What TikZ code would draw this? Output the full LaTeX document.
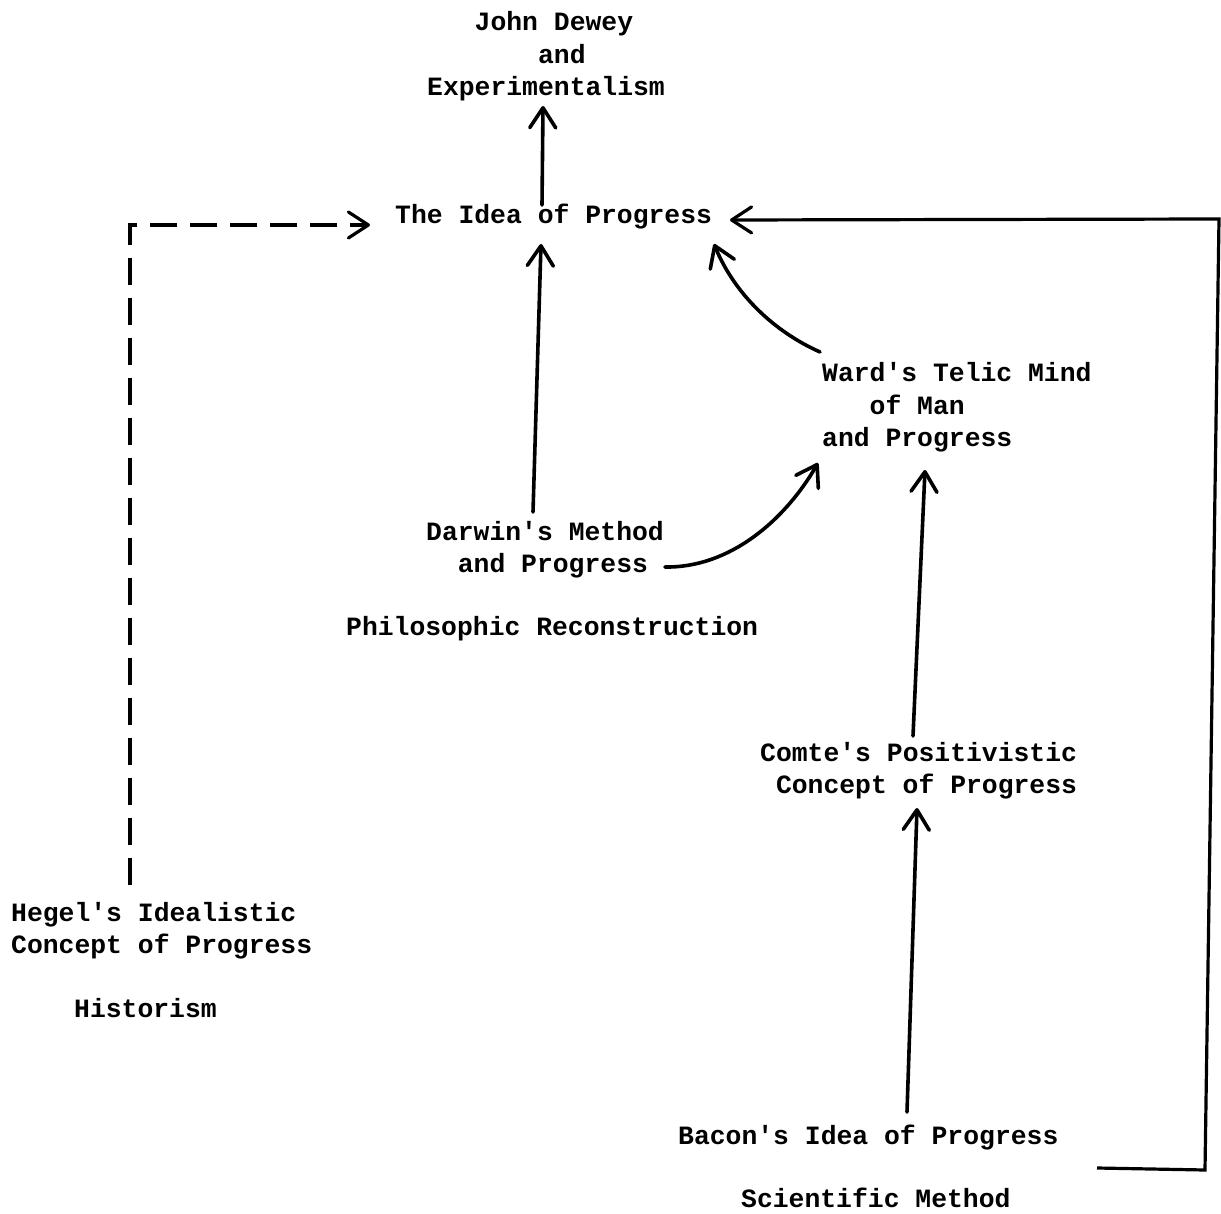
\documentclass[tikz,border=0pt]{standalone}
\usepackage{fontspec}
\setmonofont{Liberation Mono}
\usetikzlibrary{arrows.meta,calc}
% typewriter face with a fixed character pitch, spaces included
\newlength\pitch
\setlength\pitch{15.84pt}
\newcommand\typefont{\ttfamily\bfseries\fontsize{26.4pt}{32.5pt}\selectfont}
\newcommand\tw{\spaceskip=\pitch\relax\xspaceskip=\pitch\relax}
\newcommand\ind[1]{\hspace*{#1\pitch}}
\begin{document}
\begin{tikzpicture}[x=1pt,y=-1pt,
  lbl/.style={anchor=base west, inner sep=0pt, text width=520pt, align=left, font=\typefont},
  arr/.style={line width=3.6pt, line cap=round, -{Straight Barb[length=20pt,width=26pt,round]}},
  plainline/.style={line width=3.2pt, line join=miter},
  dashline/.style={line width=3.2pt, dash pattern=on 27pt off 13pt, -{Straight Barb[length=20pt,width=26pt,round]}}]
\useasboundingbox (0,0) rectangle (1221,1214);

% labels
\node[lbl] (dewey) at (427,31) {\tw\ind{3}John Dewey\\\ind{7}and\\Experimentalism};
\node[lbl] (idea)  at (395,224) {\tw The Idea of Progress};
\node[lbl] (ward)  at (822,382) {\tw Ward's Telic Mind\\\ind{3}of Man\\and Progress};
\node[lbl] (darwin) at (426,540) {\tw Darwin's Method\\\ind{2}and Progress};
\node[lbl] (philo) at (346,635) {\tw Philosophic Reconstruction};
\node[lbl] (comte) at (760,761) {\tw Comte's Positivistic\\\ind{1}Concept of Progress};
\node[lbl] (hegel) at (11,921) {\tw Hegel's Idealistic\\Concept of Progress};
\node[lbl] (histo) at (74,1017) {\tw Historism};
\node[lbl] (bacon) at (678,1144) {\tw Bacon's Idea of Progress};
\node[lbl] (sci)   at (741,1207) {\tw Scientific Method};

% straight arrows
\draw[arr] ($(idea.base west)+(147,-19)$) -- ($(dewey.base west)+(116,75)$);
\draw[arr] ($(darwin.base west)+(107,-28)$) -- ($(idea.base west)+(146,20)$);
\draw[arr] ($(comte.base west)+(153,-25)$) -- ($(ward.base west)+(103,88)$);
\draw[arr] ($(bacon.base west)+(229,-32)$) -- ($(comte.base west)+(157,47)$);

% curved arrows
\draw[arr] ($(ward.base west)+(-2,-30)$) .. controls (775,332) and (735,295) .. ($(idea.base west)+(319,20)$);
\draw[arr] ($(darwin.base west)+(239,27)$) .. controls (730,568) and (785,520) .. ($(ward.base west)+(-4,81)$);

% return line from Bacon round the right side
\draw[plainline, -{Straight Barb[length=20pt,width=26pt,round]}]
  ($(bacon.base west)+(419,24)$) -- (1205,1170) -- (1219,219) -- ($(idea.base west)+(335,-4)$);

% dashed line from Hegel
\draw[dashline] ($(hegel.base west)+(119,-36)$) -- (130,225) -- ($(idea.base west)+(-25,1)$);
\end{tikzpicture}
\end{document}
